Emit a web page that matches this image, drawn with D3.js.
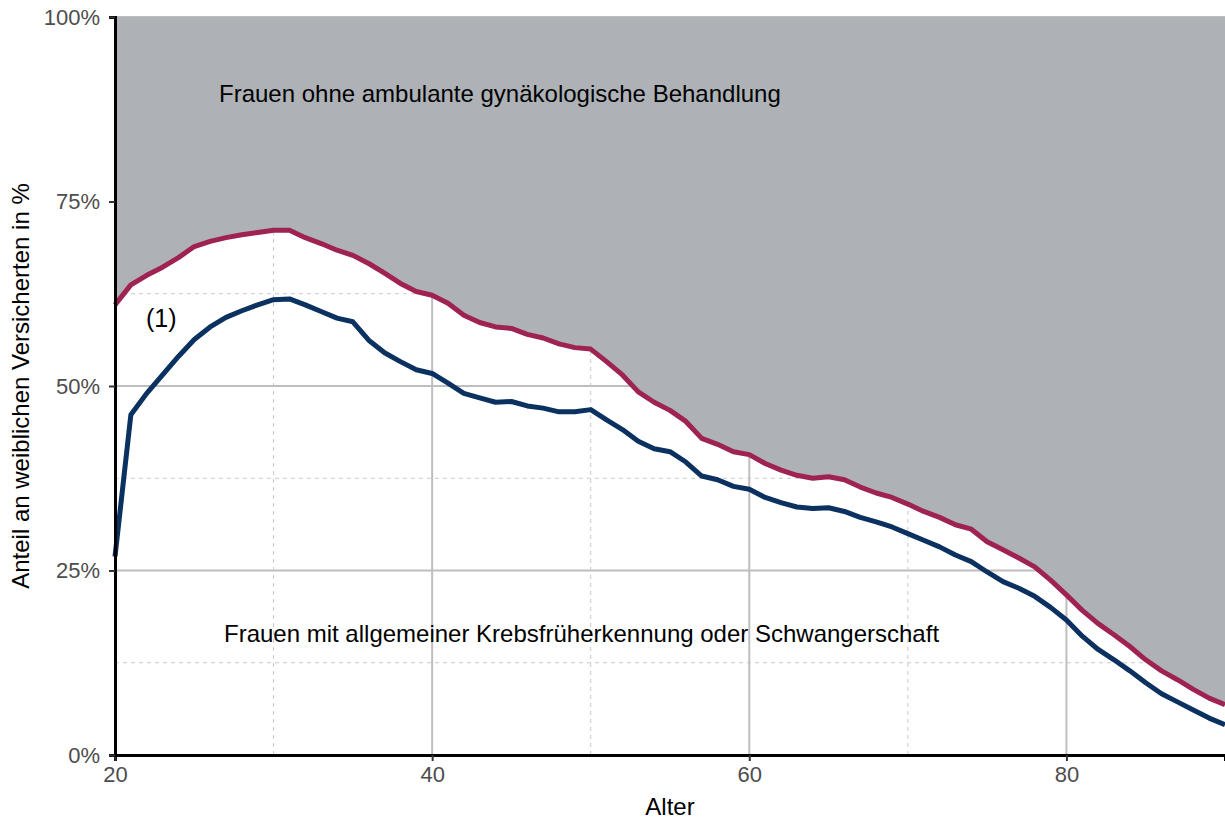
<!DOCTYPE html>
<html>
<head>
<meta charset="utf-8">
<script src="https://cdn.jsdelivr.net/npm/d3@7"></script>
<style>
  body { margin: 0; background: #fff; }
  text { font-family: "Liberation Sans", Arial, sans-serif; }
</style>
</head>
<body>
<div id="chart"></div>
<script>
// age 20..90
var ages = d3.range(20, 91);

// share with any ambulant gynaecological treatment (upper line, %)
var anyTreatment = [
  61.0, 63.7, 65.0, 66.1, 67.4, 68.9, 69.6, 70.1, 70.5, 70.8,
  71.1, 71.1, 70.1, 69.3, 68.4, 67.7, 66.6, 65.3, 63.9, 62.8,
  62.3, 61.2, 59.6, 58.6, 58.0, 57.8, 57.0, 56.5, 55.7, 55.2,
  55.0, 53.3, 51.5, 49.2, 47.8, 46.7, 45.2, 42.9, 42.1, 41.1,
  40.7, 39.5, 38.6, 37.9, 37.5, 37.7, 37.3, 36.3, 35.5, 34.9,
  34.0, 33.0, 32.2, 31.2, 30.6, 28.9, 27.8, 26.7, 25.5, 23.7,
  21.7, 19.6, 17.8, 16.3, 14.7, 12.9, 11.4, 10.2, 8.9, 7.7,
  6.8
];

// share with screening or pregnancy (lower line, %)
var screening = [
  26.9, 46.1, 49.0, 51.5, 54.0, 56.3, 58.0, 59.3, 60.2, 61.0,
  61.7, 61.8, 61.0, 60.1, 59.2, 58.7, 56.2, 54.5, 53.3, 52.2,
  51.7, 50.4, 49.0, 48.4, 47.8, 47.9, 47.3, 47.0, 46.5, 46.5,
  46.8, 45.4, 44.1, 42.5, 41.5, 41.1, 39.7, 37.8, 37.3, 36.4,
  36.0, 34.9, 34.2, 33.6, 33.4, 33.5, 33.0, 32.2, 31.6, 30.9,
  30.0, 29.1, 28.2, 27.1, 26.2, 24.8, 23.5, 22.6, 21.5, 20.0,
  18.3, 16.1, 14.3, 12.9, 11.4, 9.8, 8.3, 7.2, 6.1, 5.0,
  4.1
];

var xTicks = [20, 40, 60, 80];
var xMinor = [30, 50, 70];
var yTicks = [0, 25, 50, 75, 100];
var yMinor = [12.5, 37.5, 62.5, 87.5];

var width = 1225, height = 820;
var margin = {top: 17, right: 0, bottom: 65, left: 115};

var svg = d3.select("#chart")
    .append("svg")
    .attr("width", width)
    .attr("height", height);

var x = d3.scaleLinear()
    .domain([20, 90])
    .range([margin.left, width - margin.right]);

var y = d3.scaleLinear()
    .domain([0, 100])
    .range([height - margin.bottom, margin.top]);

var data = ages.map(function(a, i) {
  return {age: a, top: anyTreatment[i], low: screening[i]};
});

// grid
var grid = svg.append("g");
grid.selectAll(".ymaj")
    .data(yTicks)
  .enter().append("line")
    .attr("x1", x(20)).attr("x2", x(90))
    .attr("y1", function(d) { return y(d); })
    .attr("y2", function(d) { return y(d); })
    .attr("stroke", "#bebebe")
    .attr("stroke-width", 2);
grid.selectAll(".ymin")
    .data(yMinor)
  .enter().append("line")
    .attr("x1", x(20)).attr("x2", x(90))
    .attr("y1", function(d) { return y(d); })
    .attr("y2", function(d) { return y(d); })
    .attr("stroke", "#c8c8c8")
    .attr("stroke-width", 1)
    .attr("stroke-dasharray", "4,4");
grid.selectAll(".xmaj")
    .data(xTicks)
  .enter().append("line")
    .attr("x1", function(d) { return x(d); })
    .attr("x2", function(d) { return x(d); })
    .attr("y1", y(0)).attr("y2", y(100))
    .attr("stroke", "#bebebe")
    .attr("stroke-width", 2);
grid.selectAll(".xmin")
    .data(xMinor)
  .enter().append("line")
    .attr("x1", function(d) { return x(d); })
    .attr("x2", function(d) { return x(d); })
    .attr("y1", y(0)).attr("y2", y(100))
    .attr("stroke", "#c8c8c8")
    .attr("stroke-width", 1)
    .attr("stroke-dasharray", "4,4");

// gray area above upper line
var area = d3.area()
    .x(function(d) { return x(d.age); })
    .y0(y(100))
    .y1(function(d) { return y(d.top); });

svg.append("path")
    .datum(data)
    .attr("fill", "#aeb2b6")
    .attr("d", area);

var lineTop = d3.line()
    .x(function(d) { return x(d.age); })
    .y(function(d) { return y(d.top); });
var lineLow = d3.line()
    .x(function(d) { return x(d.age); })
    .y(function(d) { return y(d.low); });

svg.append("path")
    .datum(data)
    .attr("fill", "none")
    .attr("stroke", "#9e2352")
    .attr("stroke-width", 5)
    .attr("stroke-linejoin", "round")
    .attr("d", lineTop);

svg.append("path")
    .datum(data)
    .attr("fill", "none")
    .attr("stroke", "#0b3161")
    .attr("stroke-width", 5)
    .attr("stroke-linejoin", "round")
    .attr("d", lineLow);

// axes
var xAxis = svg.append("g")
    .attr("transform", "translate(0," + y(0) + ")")
    .call(d3.axisBottom(x).tickValues(xTicks).tickSize(6).tickPadding(5));
var yAxis = svg.append("g")
    .attr("transform", "translate(" + x(20) + ",0)")
    .call(d3.axisLeft(y).tickValues(yTicks).tickSize(6).tickPadding(9)
      .tickFormat(function(d) { return d + "%"; }));

[xAxis, yAxis].forEach(function(ax) {
  ax.select(".domain").attr("stroke", "#000").attr("stroke-width", 3);
  ax.selectAll(".tick line").attr("stroke", "#333").attr("stroke-width", 2);
  ax.selectAll(".tick text")
    .attr("fill", "#4d4d4d")
    .attr("font-size", 22)
    .style("font-family", "'Liberation Sans', Arial, sans-serif");
});

// axis titles
svg.append("text")
    .attr("x", (x(20) + x(90)) / 2)
    .attr("y", 815)
    .attr("text-anchor", "middle")
    .attr("font-size", 24)
    .attr("fill", "#000")
    .text("Alter");

svg.append("text")
    .attr("transform", "translate(29," + y(50) + ") rotate(-90)")
    .attr("text-anchor", "middle")
    .attr("font-size", 24)
    .attr("fill", "#000")
    .text("Anteil an weiblichen Versicherten in %");

// annotations
svg.append("text")
    .attr("x", 219)
    .attr("y", 102)
    .attr("font-size", 24)
    .attr("fill", "#000")
    .text("Frauen ohne ambulante gynäkologische Behandlung");

svg.append("text")
    .attr("x", 224)
    .attr("y", 642)
    .attr("font-size", 24)
    .attr("fill", "#000")
    .text("Frauen mit allgemeiner Krebsfrüherkennung oder Schwangerschaft");

svg.append("text")
    .attr("x", 146)
    .attr("y", 327)
    .attr("font-size", 25)
    .attr("fill", "#000")
    .text("(1)");
</script>
</body>
</html>
